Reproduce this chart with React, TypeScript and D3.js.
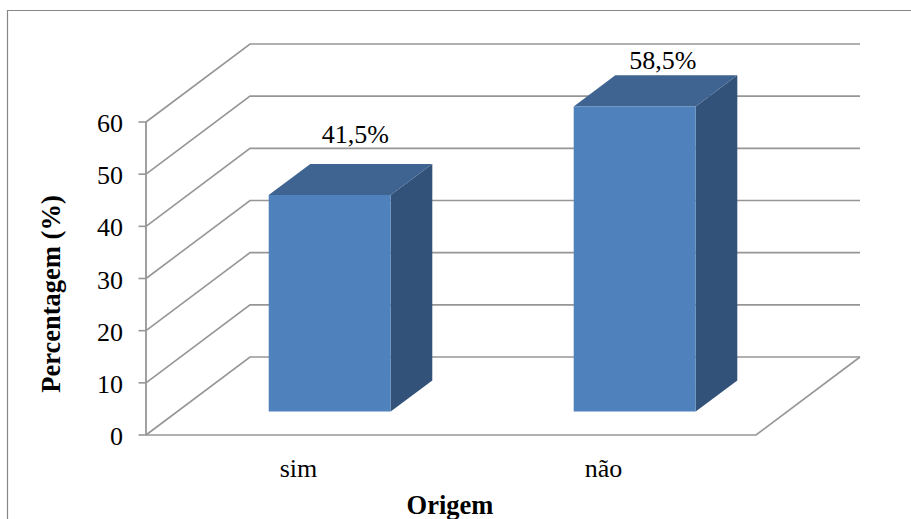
import React from "react";
import * as d3 from "d3";

const categories = ["sim", "não"];
const values = [41.5, 58.5];
const valueLabels = ["41,5%", "58,5%"];
const yTicks = [0, 10, 20, 30, 40, 50, 60];
const yTitle = "Percentagem (%)";
const xTitle = "Origem";

const WIDTH = 911;
const HEIGHT = 519;
const GRID = "#969696";
const FONT = "'Liberation Serif', 'Times New Roman', serif";
const FONT_SIZE = 26;

// Hand-placed data labels, relative to the back edge of each bar's top face.
const labelNudges: [number, number][] = [
  [-16, -20.5],
  [-13.5, -6.5],
];

const x = d3.scaleBand<string>().domain(categories).range([146, 756]).paddingInner(0).paddingOuter(0);
const y = d3.scaleLinear().domain([0, 60]).range([435, 122]);
// Oblique projection: depth 0 is the front of the floor, depth 1 is the back wall.
const depthX = d3.scaleLinear().domain([0, 1]).range([0, 104]);
const depthY = d3.scaleLinear().domain([0, 1]).range([0, -78]);

const project = (px: number, value: number, depth: number): [number, number] => [
  px + depthX(depth),
  y(value) + depthY(depth),
];
const line = d3.line<[number, number]>();

// Bars fill 40% of the band width and of the floor depth.
const BAR_FRACTION = 0.4;
const DEPTH_FRONT = 0.3;
const DEPTH_BACK = 0.7;

function Bar({
  category,
  value,
  label,
  nudge,
}: {
  category: string;
  value: number;
  label: string;
  nudge: [number, number];
}) {
  const band = x.bandwidth();
  const x0 = (x(category) as number) + (band * (1 - BAR_FRACTION)) / 2;
  const x1 = x0 + band * BAR_FRACTION;
  const front: [number, number][] = [
    project(x0, 0, DEPTH_FRONT),
    project(x1, 0, DEPTH_FRONT),
    project(x1, value, DEPTH_FRONT),
    project(x0, value, DEPTH_FRONT),
  ];
  const top: [number, number][] = [
    project(x0, value, DEPTH_FRONT),
    project(x1, value, DEPTH_FRONT),
    project(x1, value, DEPTH_BACK),
    project(x0, value, DEPTH_BACK),
  ];
  const side: [number, number][] = [
    project(x1, 0, DEPTH_FRONT),
    project(x1, 0, DEPTH_BACK),
    project(x1, value, DEPTH_BACK),
    project(x1, value, DEPTH_FRONT),
  ];
  const [labelX, labelY] = project((x0 + x1) / 2, value, DEPTH_BACK);
  return (
    <g>
      <path d={line(side) + "Z"} fill="#325279" />
      <path d={line(top) + "Z"} fill="#3f6491" />
      <path d={line(front) + "Z"} fill="#4f81bd" />
      <text
        x={labelX + nudge[0]}
        y={labelY + nudge[1]}
        textAnchor="middle"
        fontSize={FONT_SIZE}
        fill="#000"
        fontFamily={FONT}
      >
        {label}
      </text>
    </g>
  );
}

export default function App() {
  const [x0, x1] = x.range();
  const floor: [number, number][] = [
    project(x0, 0, 0),
    project(x1, 0, 0),
    project(x1, 0, 1),
  ];
  return (
    <svg
      width={WIDTH}
      height={HEIGHT}
      viewBox={`0 0 ${WIDTH} ${HEIGHT}`}
      style={{ position: "absolute", left: 0, top: 0, display: "block", background: "#fff" }}
    >
      {/* chart frame */}
      <path d={`M7.5 ${HEIGHT}V10.5H${WIDTH}`} fill="none" stroke="#868686" strokeWidth={1.2} />

      {/* wall gridlines, running up the side wall and across the back */}
      {yTicks.map((t) => (
        <path
          key={t}
          d={line([project(x0, t, 0), project(x0, t, 1), project(x1, t, 1)]) as string}
          fill="none"
          stroke={GRID}
          strokeWidth={1.6}
        />
      ))}
      <path d={line(floor) as string} fill="none" stroke={GRID} strokeWidth={1.6} />

      {/* value axis */}
      <path d={line([project(x0, 0, 0), project(x0, 60, 0)]) as string} stroke={GRID} strokeWidth={1.8} fill="none" />
      {yTicks.map((t) => (
        <g key={t}>
          <line x1={x0 - 7.5} x2={x0} y1={y(t)} y2={y(t)} stroke={GRID} strokeWidth={1.6} />
          <text x={x0 - 23} y={y(t) + 10} textAnchor="end" fontSize={FONT_SIZE} fill="#000" fontFamily={FONT}>
            {t}
          </text>
        </g>
      ))}

      {categories.map((c, i) => (
        <Bar key={c} category={c} value={values[i]} label={valueLabels[i]} nudge={labelNudges[i]} />
      ))}

      {/* category labels */}
      {categories.map((c) => (
        <text
          key={c}
          x={(x(c) as number) + x.bandwidth() / 2}
          y={476.5}
          textAnchor="middle"
          fontSize={FONT_SIZE}
          fill="#000"
          fontFamily={FONT}
        >
          {c}
        </text>
      ))}

      {/* axis titles */}
      <text x={450} y={514} textAnchor="middle" fontSize={26.5} fontWeight="bold" fill="#000" fontFamily={FONT}>
        {xTitle}
      </text>
      <text
        transform="translate(60,294) rotate(-90)"
        textAnchor="middle"
        fontSize={26.5}
        fontWeight="bold"
        fill="#000"
        fontFamily={FONT}
      >
        {yTitle}
      </text>
    </svg>
  );
}
